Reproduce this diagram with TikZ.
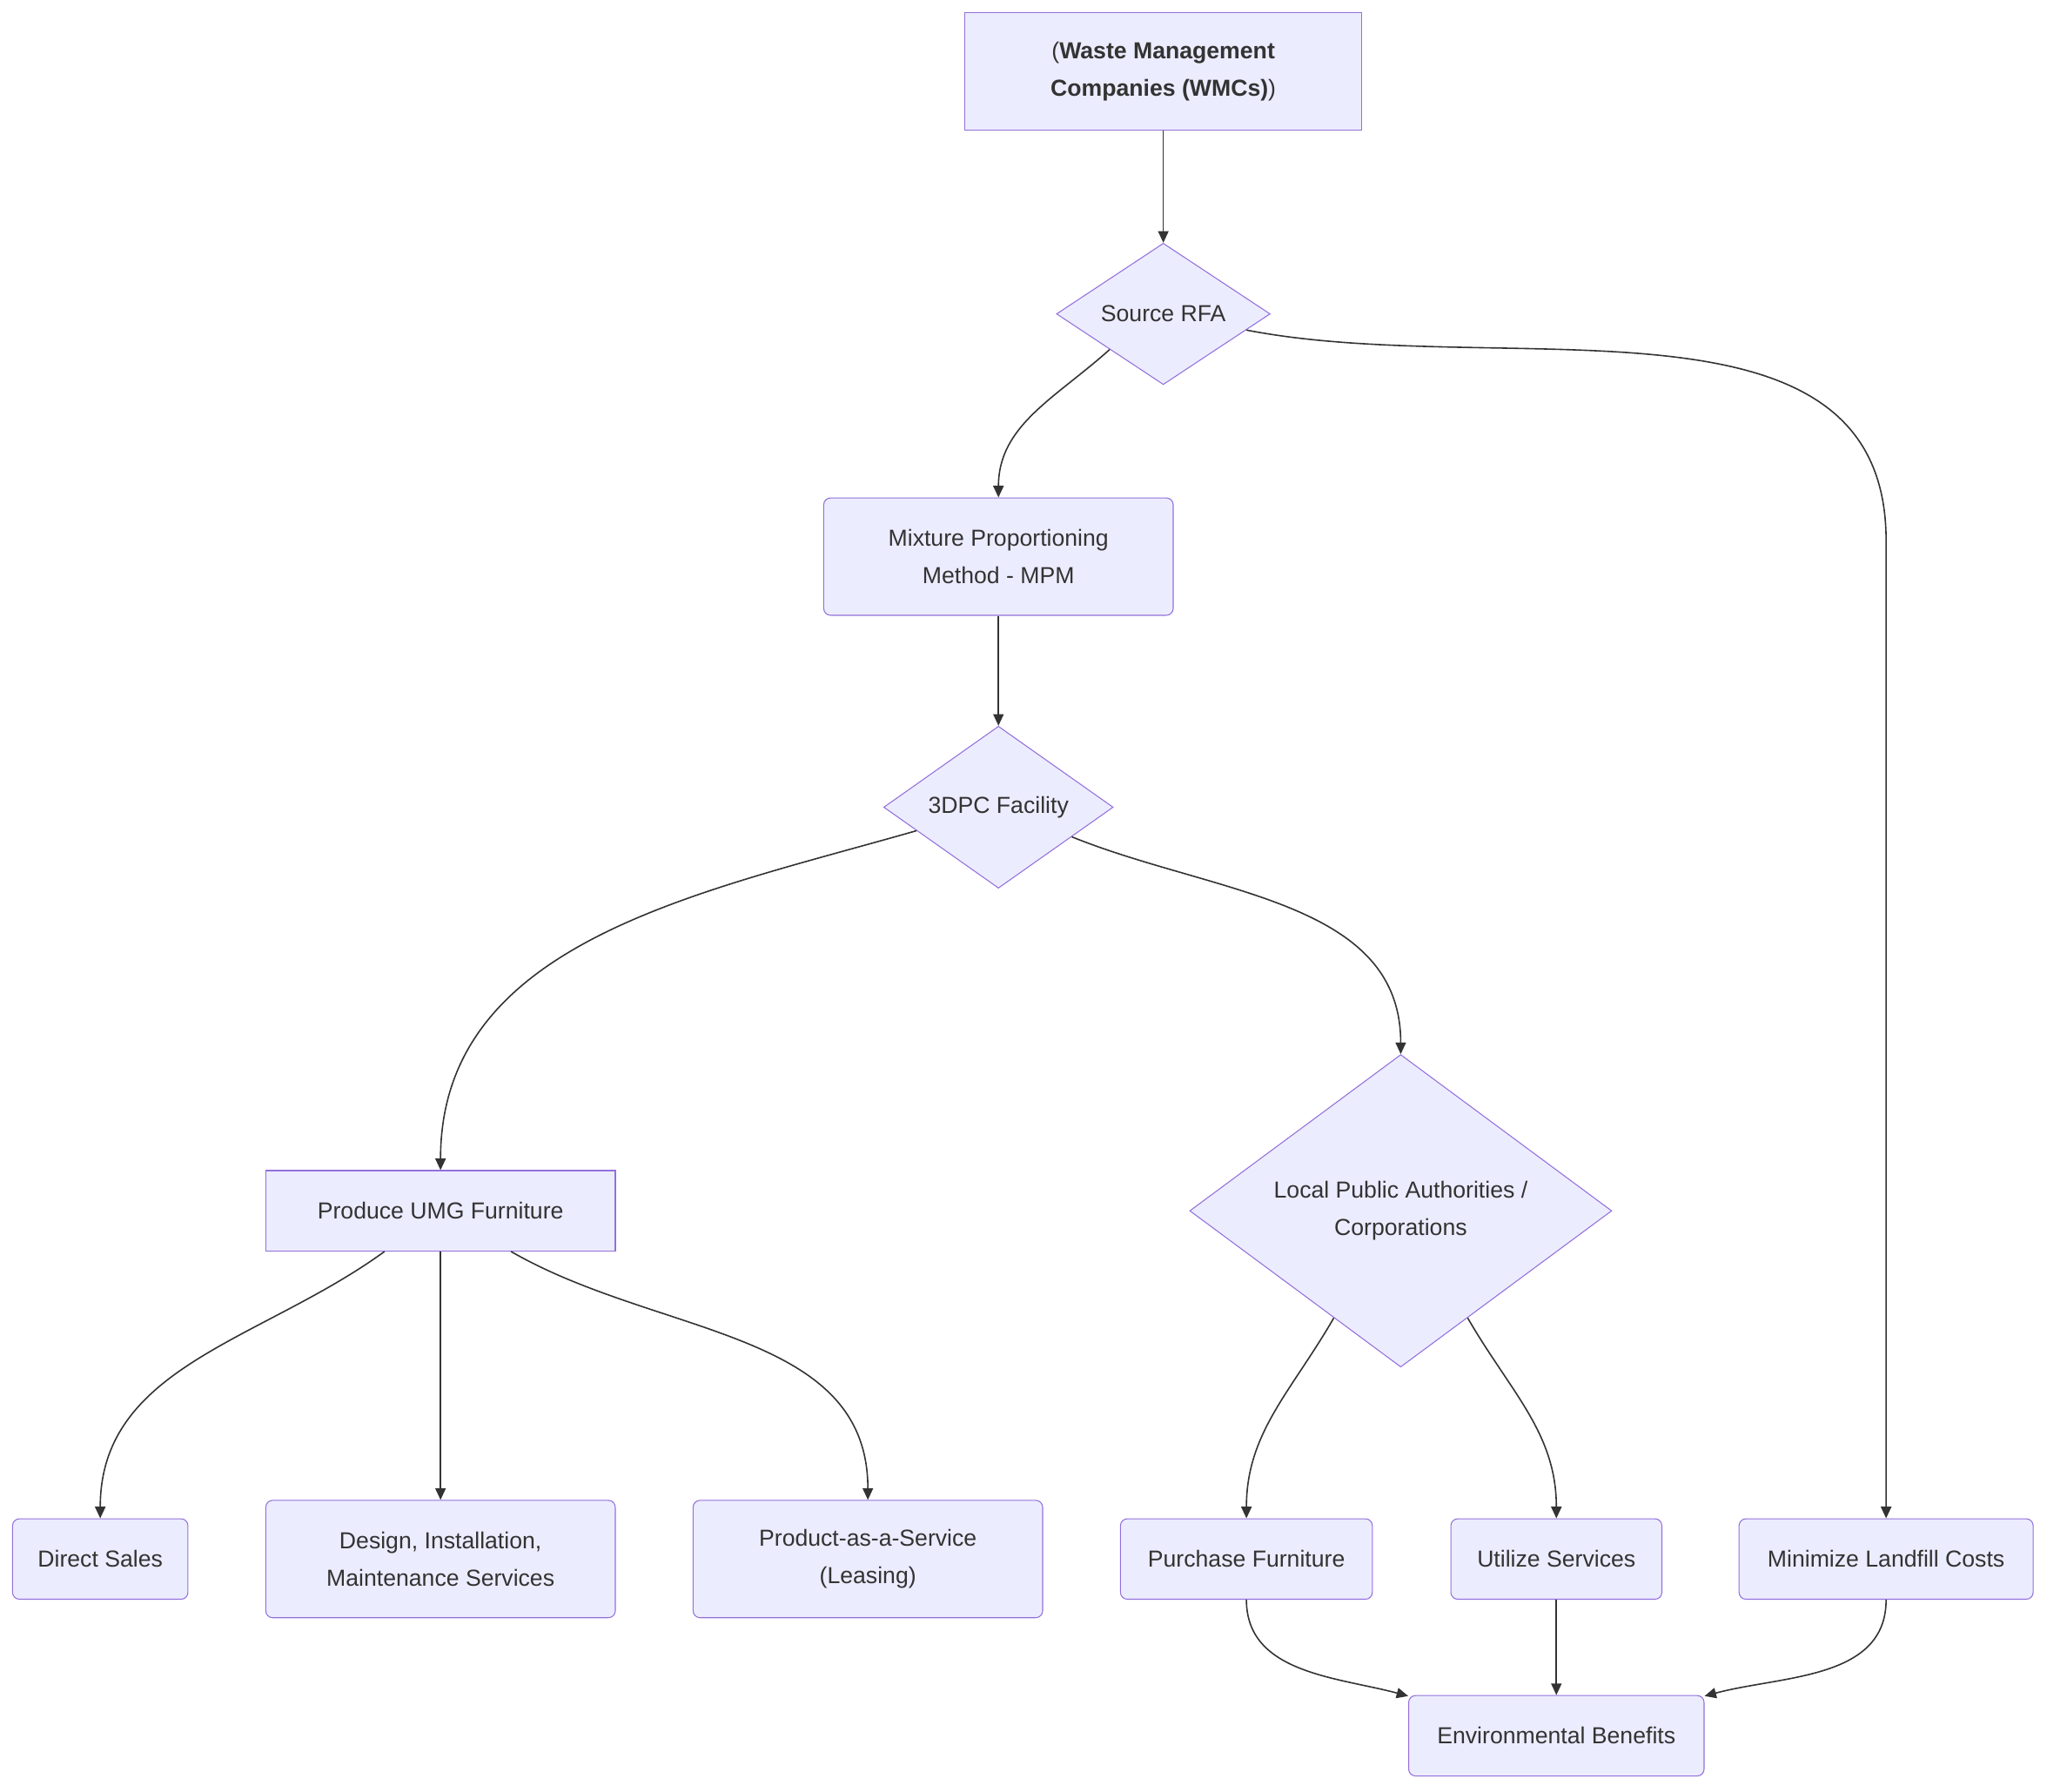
\documentclass[tikz,border=0pt]{standalone}
\usepackage{fontspec}
\setmainfont{Liberation Sans}
\usetikzlibrary{shapes.geometric,arrows.meta}
\definecolor{boxfill}{HTML}{ECECFF}
\definecolor{boxline}{HTML}{9370DB}
\definecolor{edge}{HTML}{333333}
\tikzset{
  box/.style={draw=boxline,fill=boxfill,align=center,font=\fontsize{10}{16}\selectfont,text=edge,inner sep=0pt},
  rbox/.style={box,rounded corners=3pt},
  dia/.style={box,diamond,aspect=1},
  link/.style={draw=edge,line width=0.6pt,-{Triangle[length=5pt,width=4.5pt]}}
}
\begin{document}
\begin{tikzpicture}
	\useasboundingbox (0,0) rectangle (31.04,-27.16);
	\node[box,minimum width=6.02cm,minimum height=1.78cm] (wmc) at (17.64,-1.08) {(\textbf{Waste Management}\\\textbf{Companies (WMCs)})};
	\node[dia,minimum width=3.24cm] (rfa) at (17.64,-4.76) {Source RFA};
	\node[rbox,minimum width=5.3cm,minimum height=1.78cm] (mpm) at (15.14,-8.44) {Mixture Proportioning\\Method - MPM};
	\node[dia,minimum width=3.48cm] (dpc) at (15.14,-12.24) {3DPC Facility};
	\node[box,minimum width=5.3cm,minimum height=1.22cm] (umg) at (6.68,-18.36) {Produce UMG Furniture};
	\node[dia,minimum width=6.4cm] (lpa) at (21.24,-18.36) {Local Public Authorities /\\Corporations};
	\node[rbox,minimum width=2.66cm,minimum height=1.22cm] (sales) at (1.52,-23.64) {Direct Sales};
	\node[rbox,minimum width=5.3cm,minimum height=1.78cm] (design) at (6.68,-23.64) {Design, Installation,\\Maintenance Services};
	\node[rbox,minimum width=5.3cm,minimum height=1.78cm] (paas) at (13.16,-23.64) {Product-as-a-Service\\(Leasing)};
	\node[rbox,minimum width=3.82cm,minimum height=1.22cm] (buy) at (18.9,-23.64) {Purchase Furniture};
	\node[rbox,minimum width=3.2cm,minimum height=1.22cm] (use) at (23.6,-23.64) {Utilize Services};
	\node[rbox,minimum width=4.46cm,minimum height=1.22cm] (landfill) at (28.6,-23.64) {Minimize Landfill Costs};
	\node[rbox,minimum width=4.48cm,minimum height=1.22cm] (env) at (23.6,-26.32) {Environmental Benefits};
	\coordinate (bend) at (28.6,-8.2);
	% connectors
	\draw[link] (wmc) -- (rfa);
	\draw[link] (rfa.south west) to[out=-138,in=90] (mpm.north);
	\draw[link] (rfa.-11) to[out=-11,in=90] (bend) -- (landfill.north);
	\draw[link] (mpm) -- (dpc);
	\draw[link] (dpc.196) to[out=-164,in=90] (umg.north);
	\draw[link] (dpc.-22) to[out=-22,in=90] (lpa.north);
	\draw[link] (umg.-144) to[out=-144,in=90] (sales.north);
	\draw[link] (umg) -- (design);
	\draw[link] (umg.-30) to[out=-30,in=90] (paas.north);
	\draw[link] (lpa.238) to[out=-120,in=90] (buy.north);
	\draw[link] (lpa.-58) to[out=-60,in=90] (use.north);
	\draw[link] (buy.south) to[out=-90,in=165] (env.165);
	\draw[link] (use) -- (env);
	\draw[link] (landfill.south) to[out=-90,in=15] (env.15);
\end{tikzpicture}
\end{document}
